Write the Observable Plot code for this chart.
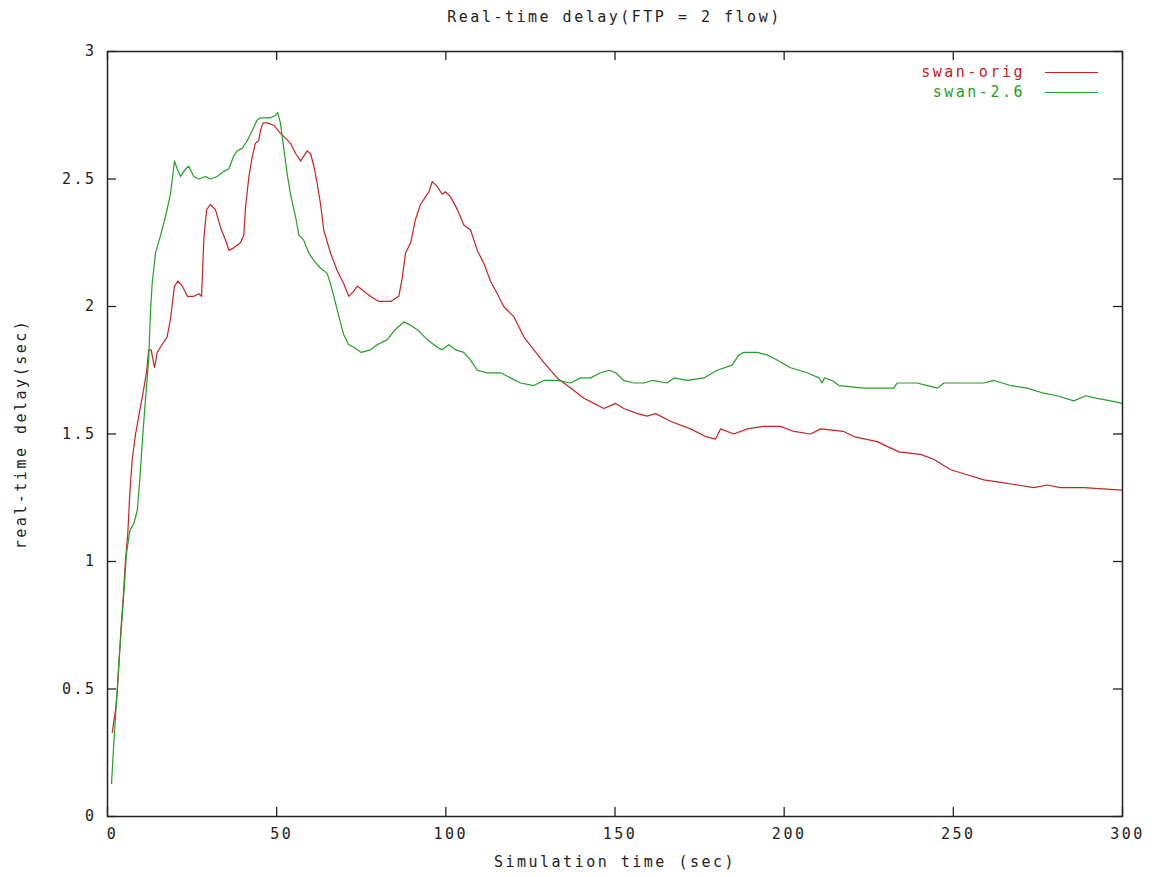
<!DOCTYPE html>
<html>
<head>
<meta charset="utf-8">
<script src="https://cdn.jsdelivr.net/npm/d3@7"></script>
<script src="https://cdn.jsdelivr.net/npm/@observablehq/plot@0.6"></script>
<style>
  html, body { margin: 0; padding: 0; background: #fff; }
  #wrap { position: relative; width: 1157px; height: 877px; font-family: "DejaVu Sans Mono", monospace; }
  #title { height: 34px; line-height: 34px; padding-left: 107px; padding-right: 35px; text-align: center;
           font-size: 15px; letter-spacing: 2.5px; color: #222; }
  #legend { position: absolute; top: 62px; left: 0; width: 1157px; font-size: 15px; letter-spacing: 2.5px; }
  .row { position: absolute; left: 0; height: 20px; line-height: 20px; }
  .row span.lbl { position: absolute; right: 0; white-space: nowrap; }
  .row span.sw { position: absolute; width: 53px; top: 10px; border-top: 1.3px solid; }
</style>
</head>
<body>
<div id="wrap">
  <div id="title"></div>
  <div id="chart"></div>
  <div id="legend"></div>
</div>
<script>
const titleText = "Real-time delay(FTP = 2 flow)";
const xLabel = "Simulation time (sec)";
const yLabel = "real-time delay(sec)";
const seriesNames = ["swan-orig", "swan-2.6"];
const seriesColors = ["#c82222", "#22a022"];
const xTicks = [0, 50, 100, 150, 200, 250, 300];
const yTicks = [0, 0.5, 1, 1.5, 2, 2.5, 3];

const origT = [1.4,2.4,2.9,3.3,4.0,4.6,5.3,6.0,6.6,7.3,8.3,9.5,10.5,11.5,12.2,12.9,13.9,14.7,16.1,17.6,18.6,19.8,20.8,22.1,23.6,25.5,27.0,27.8,28.5,29.3,30.4,31.9,33.4,34.9,35.9,37.3,39.3,40.3,40.8,41.8,42.8,43.7,44.7,45.2,46.0,47.2,49.2,51.1,52.6,54.1,55.6,57.1,58.0,59.0,60.0,61.0,62.0,63.0,63.9,65.9,67.9,69.8,71.3,72.8,73.8,75.8,77.7,80.2,83.7,86.1,87.1,88.1,89.6,91.0,92.5,94.0,95.0,96.0,97.5,98.9,99.9,101.4,103.4,105.3,107.3,109.3,111.2,113.2,115.2,117.1,120.1,123.1,126.0,129.0,132.9,136.9,140.8,143.8,146.7,150.2,152.6,156.6,159.5,162.0,166.4,172.3,176.8,179.7,181.2,185.1,189.1,194.0,198.9,202.9,207.8,210.8,217.6,220.6,227.5,233.9,240.3,244.3,249.2,254.1,259.0,264.0,268.9,273.8,277.8,281.7,288.6,300];
const origV = [0.33,0.42,0.49,0.58,0.74,0.85,1.0,1.11,1.27,1.40,1.50,1.59,1.66,1.74,1.83,1.83,1.76,1.82,1.85,1.88,1.95,2.08,2.10,2.08,2.04,2.04,2.05,2.04,2.27,2.38,2.40,2.38,2.31,2.26,2.22,2.23,2.25,2.28,2.39,2.51,2.59,2.64,2.65,2.69,2.72,2.72,2.71,2.68,2.66,2.64,2.60,2.57,2.59,2.61,2.60,2.55,2.48,2.40,2.30,2.21,2.14,2.09,2.04,2.06,2.08,2.06,2.04,2.02,2.02,2.04,2.11,2.21,2.25,2.34,2.40,2.43,2.45,2.49,2.47,2.44,2.45,2.43,2.38,2.32,2.30,2.22,2.17,2.10,2.05,2.00,1.96,1.88,1.83,1.78,1.72,1.68,1.64,1.62,1.60,1.62,1.60,1.58,1.57,1.58,1.55,1.52,1.49,1.48,1.52,1.50,1.52,1.53,1.53,1.51,1.50,1.52,1.51,1.49,1.47,1.43,1.42,1.40,1.36,1.34,1.32,1.31,1.30,1.29,1.30,1.29,1.29,1.28];

const newT = [1.2,1.7,2.4,3.3,4.0,4.8,5.6,6.6,7.8,8.8,9.6,10.3,10.9,11.5,12.2,12.7,13.2,14.2,15.7,17.1,18.6,19.8,20.6,21.6,23.1,24.0,25.5,27.0,29.0,30.4,32.4,34.4,35.9,37.3,38.3,39.8,41.3,42.8,44.2,45.2,48.2,49.7,50.3,51.1,51.9,53.1,54.1,55.6,56.6,58.0,59.5,61.0,63.0,64.9,65.9,66.9,68.4,69.8,71.3,72.8,75.0,77.7,79.7,82.7,85.1,87.6,89.1,91.5,94.5,97.5,98.9,100.9,102.9,105.3,107.3,109.3,112.2,116.2,119.1,122.1,126.0,129.0,132.9,136.9,139.8,142.8,145.7,148.2,150.2,152.6,155.6,158.5,161.0,165.4,167.4,171.3,176.3,180.2,184.6,186.6,188.1,192.0,195.0,197.9,201.9,206.8,210.3,211.2,211.9,214.2,216.2,223.6,232.4,233.4,239.3,242.3,245.3,247.2,259.0,262.0,266.9,271.8,276.7,280.7,285.6,289.1,292.5,296.5,300];
const newV = [0.13,0.25,0.40,0.59,0.72,0.87,1.03,1.12,1.15,1.20,1.33,1.47,1.58,1.68,1.80,1.98,2.09,2.21,2.28,2.35,2.44,2.57,2.54,2.51,2.54,2.55,2.51,2.50,2.51,2.50,2.51,2.53,2.54,2.59,2.61,2.62,2.65,2.69,2.73,2.74,2.74,2.75,2.76,2.72,2.64,2.52,2.44,2.35,2.28,2.26,2.21,2.18,2.15,2.13,2.09,2.04,1.96,1.89,1.85,1.84,1.82,1.83,1.85,1.87,1.91,1.94,1.93,1.91,1.87,1.84,1.83,1.85,1.83,1.82,1.79,1.75,1.74,1.74,1.72,1.70,1.69,1.71,1.71,1.70,1.72,1.72,1.74,1.75,1.74,1.71,1.70,1.70,1.71,1.70,1.72,1.71,1.72,1.75,1.77,1.81,1.82,1.82,1.81,1.79,1.76,1.74,1.72,1.70,1.72,1.71,1.69,1.68,1.68,1.70,1.70,1.69,1.68,1.70,1.70,1.71,1.69,1.68,1.66,1.65,1.63,1.65,1.64,1.63,1.62];

const data = [
  ...origT.map((t, i) => ({t, v: origV[i], s: seriesNames[0]})),
  ...newT.map((t, i) => ({t, v: newV[i], s: seriesNames[1]}))
];

document.getElementById("title").textContent = titleText;

const W = 1157, H = 843;
const mL = 107, mR = 35, mT = 17, mB = 61;
const pw = W - mL - mR, ph = H - mT - mB;

const chart = Plot.plot({
  width: W, height: H,
  marginLeft: mL, marginRight: mR, marginTop: mT, marginBottom: mB,
  style: {fontFamily: "'DejaVu Sans Mono', monospace", fontSize: "15px", letterSpacing: "2.5px", color: "#222", background: "#fff"},
  x: {domain: [0, 300]},
  y: {domain: [0, 3]},
  color: {domain: seriesNames, range: seriesColors},
  marks: [
    Plot.axisX({ticks: xTicks, tickSize: 0, tickPadding: 12, dx: 5, tickFormat: d => String(d), label: xLabel, labelAnchor: "center", labelArrow: "none", labelOffset: 50}),
    Plot.axisY({ticks: yTicks, tickSize: 0, tickPadding: 11, tickFormat: d => String(d), label: yLabel, labelAnchor: "center", labelArrow: "none", labelOffset: 92}),
    Plot.tickX(xTicks, {x: d => d, insetTop: ph - 9, stroke: "#222", strokeWidth: 1.3}),
    Plot.tickX(xTicks, {x: d => d, insetBottom: ph - 9, stroke: "#222", strokeWidth: 1.3}),
    Plot.tickY(yTicks, {y: d => d, insetRight: pw - 9, stroke: "#222", strokeWidth: 1.3}),
    Plot.tickY(yTicks, {y: d => d, insetLeft: pw - 9, stroke: "#222", strokeWidth: 1.3}),
    Plot.line(data, {x: "t", y: "v", z: "s", stroke: "s", strokeWidth: 1.2, clip: true}),
    Plot.frame({stroke: "#222", strokeWidth: 1.5})
  ]
});
document.getElementById("chart").appendChild(chart);

// legend
const legend = document.getElementById("legend");
seriesNames.forEach((name, i) => {
  const row = document.createElement("div");
  row.className = "row";
  row.style.top = (i * 20) + "px";
  row.style.width = "1157px";
  const lbl = document.createElement("span");
  lbl.className = "lbl";
  lbl.textContent = name;
  lbl.style.color = seriesColors[i];
  lbl.style.right = (1157 - 1025) + "px";
  const sw = document.createElement("span");
  sw.className = "sw";
  sw.style.left = "1045px";
  sw.style.borderTopColor = seriesColors[i];
  row.appendChild(lbl);
  row.appendChild(sw);
  legend.appendChild(row);
});
</script>
</body>
</html>
